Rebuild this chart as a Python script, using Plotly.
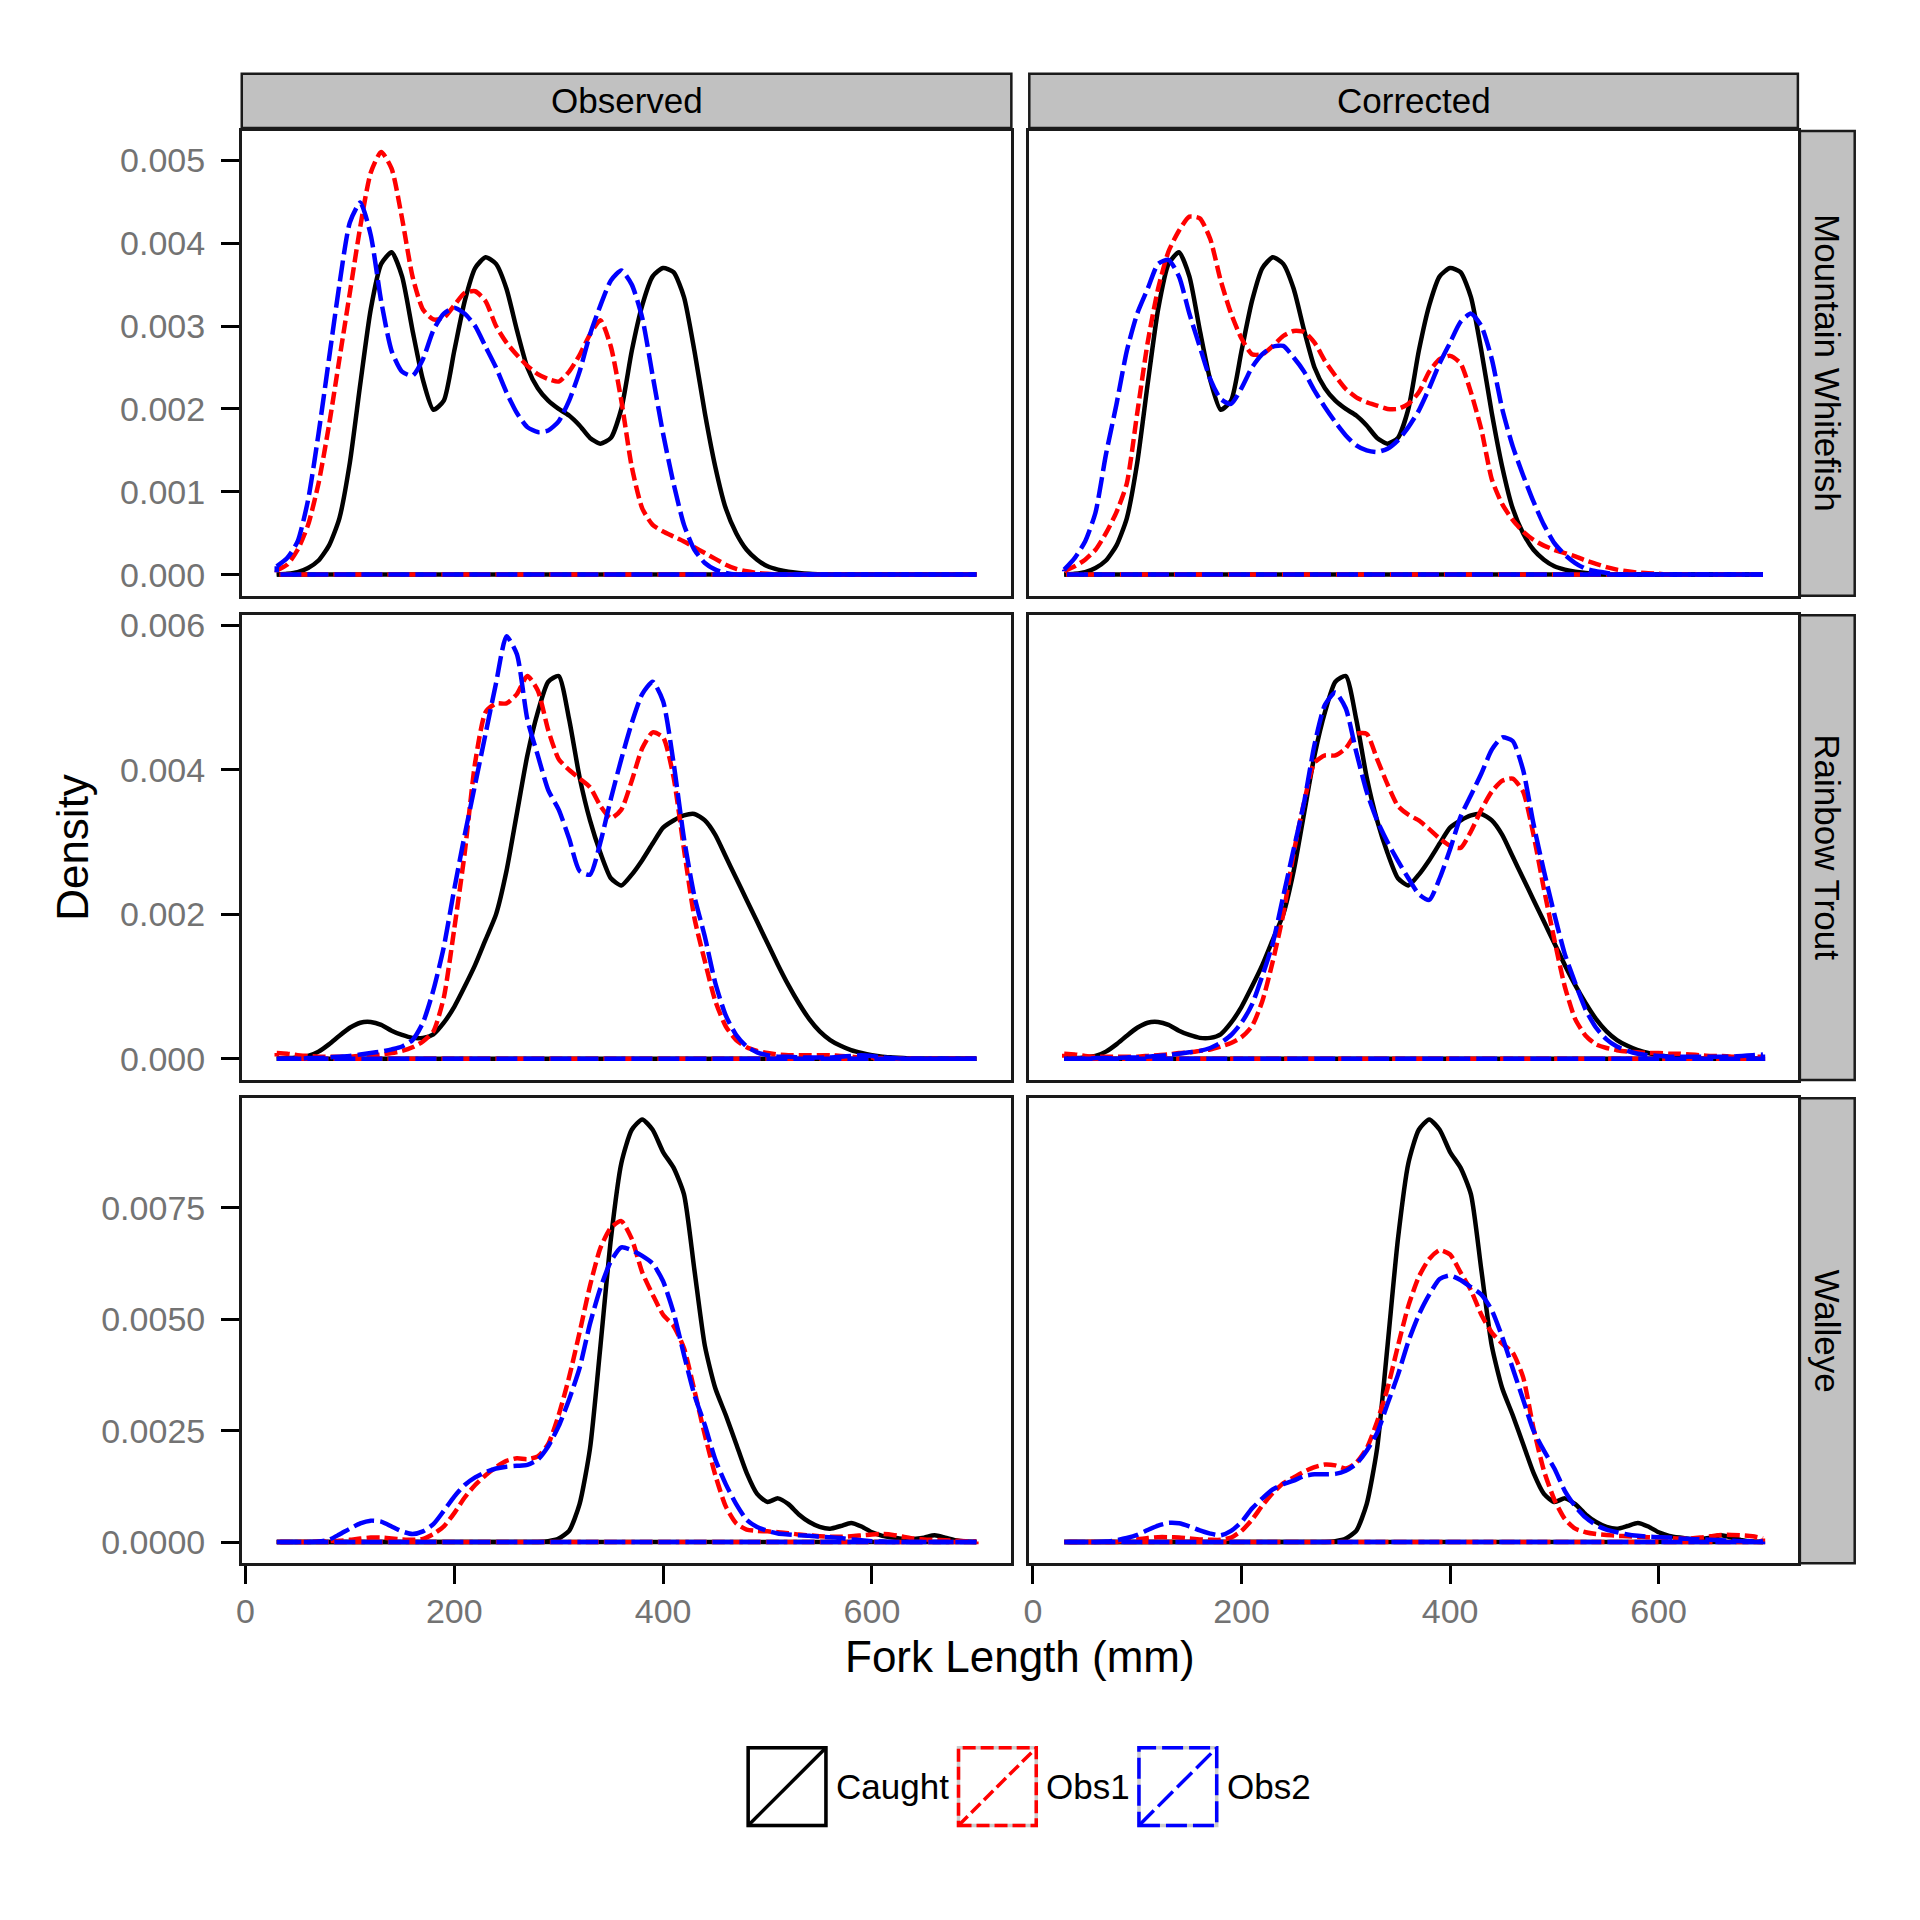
import plotly.graph_objects as go

# ---------------- data (density values are given x 1000) ----------------
DENSITY_UNIT = 1e-3

FORK_LENGTH_MM = [30, 40, 50, 60, 70, 80, 90, 100, 110, 120, 130, 140, 150, 160, 170, 180, 190,
                  200, 210, 220, 230, 240, 250, 260, 270, 280, 290, 300, 310, 320, 330, 340,
                  350, 360, 370, 380, 390, 400, 410, 420, 430, 440, 450, 460, 470, 480, 490,
                  500, 510, 520, 530, 540, 550, 560, 570, 580, 590, 600, 610, 620, 630, 640,
                  650, 660, 670, 680, 690, 700]

SPECIES = ["Mountain Whitefish", "Rainbow Trout", "Walleye"]
VERSIONS = ["Observed", "Corrected"]
GROUPS = ["Caught", "Obs1", "Obs2"]

# Mountain Whitefish
mw_caught = [0, 0.01, 0.03, 0.08, 0.17, 0.35, 0.68, 1.35, 2.3, 3.2, 3.75, 3.89, 3.6, 2.95, 2.35, 1.99, 2.1,
             2.7, 3.3, 3.7, 3.83, 3.75, 3.45, 2.95, 2.5, 2.25, 2.1, 2.0, 1.92, 1.8, 1.65, 1.58,
             1.65, 2.0, 2.7, 3.25, 3.6, 3.7, 3.65, 3.35, 2.7, 1.95, 1.3, 0.8, 0.5, 0.3, 0.18,
             0.1, 0.06, 0.035, 0.02, 0.01, 0.005, 0, 0, 0, 0, 0, 0, 0, 0, 0,
             0, 0, 0, 0, 0, 0]
mw_obs1_observed = [0.05, 0.12, 0.3, 0.6, 1.1, 1.8, 2.6, 3.4, 4.2, 4.85, 5.1, 4.9, 4.3, 3.6, 3.2, 3.08, 3.1,
                    3.25, 3.4, 3.42, 3.3, 3.0, 2.8, 2.65, 2.52, 2.42, 2.36, 2.33, 2.45, 2.65, 2.9, 3.07,
                    2.75, 2.1, 1.3, 0.8, 0.6, 0.52, 0.46, 0.4, 0.33, 0.26, 0.19, 0.12, 0.07, 0.04, 0.02,
                    0.01, 0, 0, 0, 0, 0, 0, 0, 0, 0, 0, 0, 0, 0, 0,
                    0, 0, 0, 0, 0, 0]
mw_obs2_observed = [0.1, 0.2, 0.4, 0.9, 1.7, 2.6, 3.5, 4.25, 4.49, 4.1, 3.3, 2.7, 2.45, 2.4, 2.6, 2.95, 3.15,
                    3.22, 3.15, 3.0, 2.75, 2.5, 2.2, 1.95, 1.78, 1.72, 1.74, 1.85, 2.1, 2.45, 2.9, 3.25,
                    3.55, 3.67, 3.5, 3.1, 2.4, 1.7, 1.1, 0.6, 0.3, 0.14, 0.06, 0.02, 0, 0, 0,
                    0, 0, 0, 0, 0, 0, 0, 0, 0, 0, 0, 0, 0, 0, 0,
                    0, 0, 0, 0, 0, 0]
mw_obs1_corrected = [0.04, 0.1, 0.18, 0.3, 0.5, 0.75, 1.1, 1.95, 2.8, 3.45, 3.9, 4.15, 4.32, 4.3, 4.05, 3.55, 3.15,
                     2.85, 2.66, 2.66, 2.76, 2.88, 2.94, 2.93, 2.8, 2.58, 2.4, 2.24, 2.14, 2.08, 2.04, 2.0,
                     2.0, 2.06, 2.2, 2.45, 2.6, 2.64, 2.55, 2.2, 1.75, 1.15, 0.85, 0.66, 0.52, 0.42, 0.35,
                     0.3, 0.26, 0.22, 0.17, 0.13, 0.09, 0.06, 0.04, 0.025, 0.015, 0.01, 0, 0, 0, 0,
                     0, 0, 0, 0, 0, 0]
mw_obs2_corrected = [0.06, 0.2, 0.4, 0.75, 1.45, 2.05, 2.7, 3.15, 3.45, 3.75, 3.8, 3.6, 3.15, 2.75, 2.36, 2.12, 2.06,
                     2.25, 2.5, 2.66, 2.75, 2.76, 2.62, 2.45, 2.22, 2.02, 1.84, 1.68, 1.56, 1.5, 1.48, 1.52,
                     1.62, 1.78, 1.98, 2.25, 2.55, 2.8, 3.05, 3.15, 3.0, 2.6, 2.0, 1.55, 1.2, 0.88, 0.6,
                     0.38, 0.24, 0.14, 0.07, 0.04, 0.02, 0, 0, 0, 0, 0, 0, 0, 0, 0,
                     0, 0, 0, 0, 0, 0]

# Rainbow Trout
rt_caught = [0, 0.01, 0.02, 0.04, 0.1, 0.2, 0.32, 0.43, 0.5, 0.51, 0.47, 0.39, 0.33, 0.29, 0.29, 0.34, 0.5,
             0.72, 1.0, 1.3, 1.65, 2.0, 2.6, 3.4, 4.2, 4.8, 5.22, 5.3, 4.7, 3.9, 3.3, 2.85,
             2.5, 2.4, 2.55, 2.75, 2.98, 3.2, 3.3, 3.37, 3.39, 3.3, 3.1, 2.8, 2.5, 2.2, 1.9,
             1.6, 1.3, 1.02, 0.77, 0.55, 0.38, 0.26, 0.18, 0.12, 0.08, 0.05, 0.03, 0.02, 0.01, 0,
             0, 0, 0, 0, 0, 0]
rt_obs1_observed = [0.08, 0.07, 0.05, 0.04, 0.03, 0.03, 0.03, 0.03, 0.04, 0.05, 0.06, 0.08, 0.11, 0.16, 0.24, 0.38, 0.85,
                    1.8, 2.85, 4.1, 4.8, 4.92, 4.92, 5.05, 5.3, 5.1, 4.55, 4.15, 4.0, 3.88, 3.76, 3.5,
                    3.33, 3.45, 3.85, 4.3, 4.52, 4.45, 3.9, 2.9, 1.95, 1.35, 0.8, 0.45, 0.26, 0.16, 0.11,
                    0.08, 0.06, 0.05, 0.05, 0.05, 0.05, 0.05, 0.04, 0.03, 0.02, 0.02, 0.01, 0, 0, 0,
                    0, 0, 0, 0, 0, 0]
rt_obs2_observed = [0, 0, 0, 0.01, 0.01, 0.02, 0.03, 0.04, 0.06, 0.08, 0.1, 0.13, 0.17, 0.26, 0.5, 0.95, 1.55,
                    2.35, 3.1, 3.8, 4.5, 5.2, 5.85, 5.6, 4.7, 4.2, 3.72, 3.45, 3.05, 2.6, 2.55, 3.0,
                    3.6, 4.15, 4.65, 5.05, 5.22, 4.95, 4.1, 3.05, 2.25, 1.69, 1.05, 0.6, 0.33, 0.17, 0.09,
                    0.05, 0.03, 0.03, 0.02, 0.02, 0.02, 0.02, 0.03, 0.04, 0.05, 0.04, 0.02, 0.01, 0, 0,
                    0, 0, 0, 0, 0, 0]
rt_obs1_corrected = [0.07, 0.06, 0.04, 0.03, 0.03, 0.03, 0.03, 0.03, 0.04, 0.05, 0.06, 0.08, 0.09, 0.11, 0.13, 0.17, 0.22,
                     0.3, 0.45, 0.8, 1.35, 2.0, 2.85, 3.55, 4.1, 4.2, 4.2, 4.3, 4.5, 4.5, 4.15, 3.8,
                     3.5, 3.38, 3.3, 3.18, 3.05, 2.95, 2.92, 3.15, 3.45, 3.7, 3.85, 3.88, 3.7, 3.1, 2.35,
                     1.65, 1.0, 0.55, 0.32, 0.2, 0.15, 0.12, 0.1, 0.09, 0.08, 0.08, 0.07, 0.07, 0.06, 0.05,
                     0.04, 0.04, 0.03, 0.03, 0.03, 0.03]
rt_obs2_corrected = [0, 0, 0, 0.01, 0.01, 0.01, 0.02, 0.02, 0.03, 0.04, 0.05, 0.07, 0.09, 0.11, 0.15, 0.22, 0.33,
                     0.5, 0.75, 1.15, 1.6, 2.25, 2.9, 3.55, 4.35, 4.9, 5.07, 4.85, 4.25, 3.7, 3.3, 3.0,
                     2.74, 2.5, 2.28, 2.2, 2.5, 2.9, 3.35, 3.65, 3.95, 4.28, 4.45, 4.4, 4.0, 3.25, 2.6,
                     2.0, 1.45, 1.05, 0.68, 0.43, 0.27, 0.17, 0.11, 0.07, 0.05, 0.04, 0.03, 0.03, 0.03, 0.03,
                     0.03, 0.03, 0.03, 0.04, 0.05, 0.06]

# Walleye
we_caught = [0, 0, 0, 0, 0, 0, 0, 0, 0, 0, 0, 0, 0, 0, 0, 0, 0,
             0, 0, 0, 0, 0, 0, 0, 0, 0, 0.02, 0.08, 0.25, 0.85, 2.1, 4.4,
             6.8, 8.5, 9.25, 9.48, 9.25, 8.75, 8.4, 7.8, 6.1, 4.4, 3.45, 2.85, 2.2, 1.55, 1.08,
             0.9, 0.98, 0.85, 0.62, 0.45, 0.34, 0.3, 0.36, 0.43, 0.35, 0.22, 0.14, 0.1, 0.07, 0.07,
             0.1, 0.15, 0.1, 0.04, 0.01, 0]
we_obs1_observed = [0, 0, 0, 0, 0.01, 0.02, 0.03, 0.05, 0.08, 0.1, 0.1, 0.08, 0.06, 0.05, 0.07, 0.18, 0.35,
                    0.65, 1.0, 1.28, 1.5, 1.68, 1.82, 1.88, 1.86, 1.92, 2.2, 2.85, 3.7, 4.7, 5.75, 6.6,
                    7.05, 7.2, 6.8, 6.05, 5.55, 5.1, 4.85, 4.35, 3.4, 2.4, 1.5, 0.8, 0.42, 0.28, 0.25,
                    0.24, 0.22, 0.2, 0.17, 0.15, 0.13, 0.12, 0.12, 0.13, 0.15, 0.17, 0.18, 0.16, 0.12, 0.08,
                    0.06, 0.05, 0.04, 0.03, 0.02, 0.01]
we_obs2_observed = [0, 0, 0, 0, 0.01, 0.05, 0.17, 0.3, 0.42, 0.48, 0.46, 0.35, 0.24, 0.18, 0.24, 0.4, 0.7,
                    1.02, 1.28, 1.45, 1.57, 1.65, 1.69, 1.71, 1.73, 1.85, 2.15, 2.6, 3.2, 3.9, 4.9, 5.7,
                    6.3, 6.61, 6.55, 6.42, 6.25, 5.85, 5.15, 4.2, 3.3, 2.62, 1.85, 1.3, 0.85, 0.5, 0.34,
                    0.25, 0.19, 0.17, 0.15, 0.14, 0.12, 0.11, 0.09, 0.06, 0.04, 0.02, 0.01, 0, 0, 0,
                    0, 0, 0, 0, 0, 0]
we_obs1_corrected = [0, 0, 0, 0, 0, 0.01, 0.03, 0.06, 0.09, 0.11, 0.11, 0.1, 0.08, 0.06, 0.05, 0.05, 0.1,
                     0.25, 0.5, 0.82, 1.1, 1.32, 1.45, 1.58, 1.68, 1.74, 1.72, 1.65, 1.78, 2.1, 2.7, 3.45,
                     4.4, 5.3, 5.95, 6.35, 6.55, 6.45, 6.05, 5.65, 5.1, 4.7, 4.45, 4.25, 3.7, 2.55, 1.6,
                     0.95, 0.52, 0.3, 0.22, 0.18, 0.16, 0.14, 0.13, 0.12, 0.11, 0.1, 0.09, 0.08, 0.08, 0.1,
                     0.13, 0.16, 0.16, 0.15, 0.13, 0.08]
we_obs2_corrected = [0, 0, 0, 0, 0.01, 0.04, 0.09, 0.16, 0.27, 0.37, 0.43, 0.42, 0.35, 0.26, 0.19, 0.15, 0.25,
                     0.45, 0.75, 0.98, 1.18, 1.3, 1.38, 1.48, 1.52, 1.52, 1.53, 1.6, 1.75, 2.05, 2.45, 3.1,
                     3.75, 4.5, 5.1, 5.55, 5.9, 5.98, 5.88, 5.72, 5.55, 5.2, 4.6, 3.9, 3.2, 2.5, 2.05,
                     1.65, 1.15, 0.8, 0.55, 0.38, 0.28, 0.22, 0.17, 0.14, 0.12, 0.11, 0.1, 0.08, 0.07, 0.06,
                     0.05, 0.04, 0.03, 0.02, 0.02, 0.01]

DENSITIES = {
    ("Mountain Whitefish", "Observed"): {"Caught": mw_caught, "Obs1": mw_obs1_observed, "Obs2": mw_obs2_observed},
    ("Mountain Whitefish", "Corrected"): {"Caught": mw_caught, "Obs1": mw_obs1_corrected, "Obs2": mw_obs2_corrected},
    ("Rainbow Trout", "Observed"): {"Caught": rt_caught, "Obs1": rt_obs1_observed, "Obs2": rt_obs2_observed},
    ("Rainbow Trout", "Corrected"): {"Caught": rt_caught, "Obs1": rt_obs1_corrected, "Obs2": rt_obs2_corrected},
    ("Walleye", "Observed"): {"Caught": we_caught, "Obs1": we_obs1_observed, "Obs2": we_obs2_observed},
    ("Walleye", "Corrected"): {"Caught": we_caught, "Obs1": we_obs1_corrected, "Obs2": we_obs2_corrected},
}

X_TICKS = [0, 200, 400, 600]
Y_TICKS = {
    "Mountain Whitefish": [0.000, 0.001, 0.002, 0.003, 0.004, 0.005],
    "Rainbow Trout": [0.000, 0.002, 0.004, 0.006],
    "Walleye": [0.0000, 0.0025, 0.0050, 0.0075],
}
Y_TICK_TEXT = {
    "Mountain Whitefish": ["0.000", "0.001", "0.002", "0.003", "0.004", "0.005"],
    "Rainbow Trout": ["0.000", "0.002", "0.004", "0.006"],
    "Walleye": ["0.0000", "0.0025", "0.0050", "0.0075"],
}

# ---------------- styling / layout ----------------
W = H = 1920
FONT = "Liberation Sans"
STYLE = {
    "Caught": dict(color="#000000", dash="solid"),
    "Obs1": dict(color="#FF0000", dash="13px,5px"),
    "Obs2": dict(color="#0000FF", dash="21px,6px"),
}
LINE_W = 4.5
BORDER = "#1a1a1a"
TICK_GREY = "#737373"

COL_PX = [(236.5, 1008.5), (1026.5, 1797.5)]
ROW_PX = [(122.5, 589.5), (609.0, 1076.0), (1094.5, 1561.5)]
TOP_STRIP_PX = (65.0, 119.6)
RIGHT_STRIP_PX = (1799.5, 1854.5)


def px(xp):
    return xp / W


def py(yp):
    return 1 - yp / H


fig = go.Figure()

xmin, xmax = min(FORK_LENGTH_MM), max(FORK_LENGTH_MM)
xpad = 0.05 * (xmax - xmin)
x_range = [xmin - xpad, xmax + xpad]

layout_axes = {}
for r, sp in enumerate(SPECIES):
    row_max = max(max(v) for ver in VERSIONS for v in DENSITIES[(sp, ver)].values()) * DENSITY_UNIT
    y_range = [-0.05 * row_max, 1.05 * row_max]
    for c, ver in enumerate(VERSIONS):
        k = r * 2 + c + 1
        xa = "x" if k == 1 else f"x{k}"
        ya = "y" if k == 1 else f"y{k}"
        for g in GROUPS:
            ys = [v * DENSITY_UNIT for v in DENSITIES[(sp, ver)][g]]
            st = STYLE[g]
            # density curve
            fig.add_trace(go.Scatter(
                x=FORK_LENGTH_MM, y=ys, mode="lines", xaxis=xa, yaxis=ya,
                line=dict(color=st["color"], dash=st["dash"], width=LINE_W, shape="spline", smoothing=0.6),
                showlegend=False, hoverinfo="skip"))
            # polygon closure along the baseline (as geom_density draws it)
            fig.add_trace(go.Scatter(
                x=[FORK_LENGTH_MM[-1], FORK_LENGTH_MM[-1], FORK_LENGTH_MM[0], FORK_LENGTH_MM[0]],
                y=[ys[-1], 0, 0, ys[0]], mode="lines", xaxis=xa, yaxis=ya,
                line=dict(color=st["color"], dash=st["dash"], width=LINE_W),
                showlegend=False, hoverinfo="skip"))

        bottom = (r == len(SPECIES) - 1)
        left = (c == 0)
        xkey = "xaxis" if k == 1 else f"xaxis{k}"
        ykey = "yaxis" if k == 1 else f"yaxis{k}"
        layout_axes[xkey] = dict(
            domain=[px(COL_PX[c][0]), px(COL_PX[c][1])], anchor=ya, range=x_range,
            showline=True, mirror=True, linecolor=BORDER, linewidth=2.5,
            showgrid=False, zeroline=False,
            ticks="outside" if bottom else "", tickvals=X_TICKS,
            ticktext=[str(t) for t in X_TICKS],
            showticklabels=bottom, ticklen=18, tickwidth=3, tickcolor="#000000",
            tickfont=dict(family=FONT, size=34, color=TICK_GREY), ticklabelstandoff=-2)
        layout_axes[ykey] = dict(
            domain=[py(ROW_PX[r][1]), py(ROW_PX[r][0])], anchor=xa, range=y_range,
            showline=True, mirror=True, linecolor=BORDER, linewidth=2.5,
            showgrid=False, zeroline=False,
            ticks="outside" if left else "", tickvals=Y_TICKS[sp], ticktext=Y_TICK_TEXT[sp],
            showticklabels=left, ticklen=18, tickwidth=3, tickcolor="#000000",
            tickfont=dict(family=FONT, size=34, color=TICK_GREY), ticklabelstandoff=9)

shapes = []
annotations = []
STRIP_FILL = "#C1C1C1"
# top strips
for c, ver in enumerate(VERSIONS):
    shapes.append(dict(type="rect", xref="paper", yref="paper",
                       x0=px(COL_PX[c][0]), x1=px(COL_PX[c][1]),
                       y0=py(TOP_STRIP_PX[1]), y1=py(TOP_STRIP_PX[0]),
                       fillcolor=STRIP_FILL, line=dict(color=BORDER, width=2.5), layer="below"))
    annotations.append(dict(text=ver, xref="paper", yref="paper", showarrow=False,
                            x=px((COL_PX[c][0] + COL_PX[c][1]) / 2),
                            y=py((TOP_STRIP_PX[0] + TOP_STRIP_PX[1]) / 2),
                            xanchor="center", yanchor="middle",
                            font=dict(family=FONT, size=35, color="#000000")))
# right strips
for r, sp in enumerate(SPECIES):
    shapes.append(dict(type="rect", xref="paper", yref="paper",
                       x0=px(RIGHT_STRIP_PX[0]), x1=px(RIGHT_STRIP_PX[1]),
                       y0=py(ROW_PX[r][1]), y1=py(ROW_PX[r][0]),
                       fillcolor=STRIP_FILL, line=dict(color=BORDER, width=2.5), layer="below"))
    annotations.append(dict(text=sp, xref="paper", yref="paper", showarrow=False, textangle=90,
                            x=px((RIGHT_STRIP_PX[0] + RIGHT_STRIP_PX[1]) / 2),
                            y=py((ROW_PX[r][0] + ROW_PX[r][1]) / 2),
                            xanchor="center", yanchor="middle",
                            font=dict(family=FONT, size=35, color="#000000")))

# axis titles
annotations.append(dict(text="Fork Length (mm)", xref="paper", yref="paper", showarrow=False,
                        x=px((COL_PX[0][0] + COL_PX[1][1]) / 2), y=py(1655),
                        xanchor="center", yanchor="middle",
                        font=dict(family=FONT, size=44, color="#000000")))
annotations.append(dict(text="Density", xref="paper", yref="paper", showarrow=False, textangle=-90,
                        x=px(66), y=py((ROW_PX[0][0] + ROW_PX[2][1]) / 2),
                        xanchor="center", yanchor="middle",
                        font=dict(family=FONT, size=44, color="#000000")))

# legend (drawn manually to mimic ggplot keys)
KEY_X = {"Caught": 744.5, "Obs1": 955.5, "Obs2": 1136.5}
KEY_SIZE = 78
KEY_Y0 = 1747.0
for g in GROUPS:
    st = STYLE[g]
    x0, x1 = KEY_X[g], KEY_X[g] + KEY_SIZE
    y0, y1 = KEY_Y0, KEY_Y0 + KEY_SIZE
    shapes.append(dict(type="rect", xref="paper", yref="paper", x0=px(x0), x1=px(x1), y0=py(y1), y1=py(y0),
                       line=dict(color="#CCCCCC", width=3.5), fillcolor="rgba(0,0,0,0)"))
    shapes.append(dict(type="rect", xref="paper", yref="paper", x0=px(x0), x1=px(x1), y0=py(y1), y1=py(y0),
                       line=dict(color=st["color"], width=3.5, dash=st["dash"]), fillcolor="rgba(0,0,0,0)"))
    shapes.append(dict(type="line", xref="paper", yref="paper", x0=px(x0), y0=py(y1), x1=px(x1), y1=py(y0),
                       line=dict(color=st["color"], width=3.5, dash=st["dash"])))
    annotations.append(dict(text=g, xref="paper", yref="paper", showarrow=False,
                            x=px(x1 + 8), y=py((y0 + y1) / 2), xanchor="left", yanchor="middle",
                            font=dict(family=FONT, size=35, color="#000000")))

fig.update_layout(
    width=W, height=H, autosize=False,
    margin=dict(l=0, r=0, t=0, b=0),
    paper_bgcolor="white", plot_bgcolor="white",
    font=dict(family=FONT),
    showlegend=False,
    shapes=shapes, annotations=annotations,
    **layout_axes,
)

fig.write_html(
    "out.html",
    config={"displayModeBar": False},
    post_script="document.body.style.margin='0px';document.body.style.padding='0px';"
                "document.body.style.overflow='hidden';",
)
